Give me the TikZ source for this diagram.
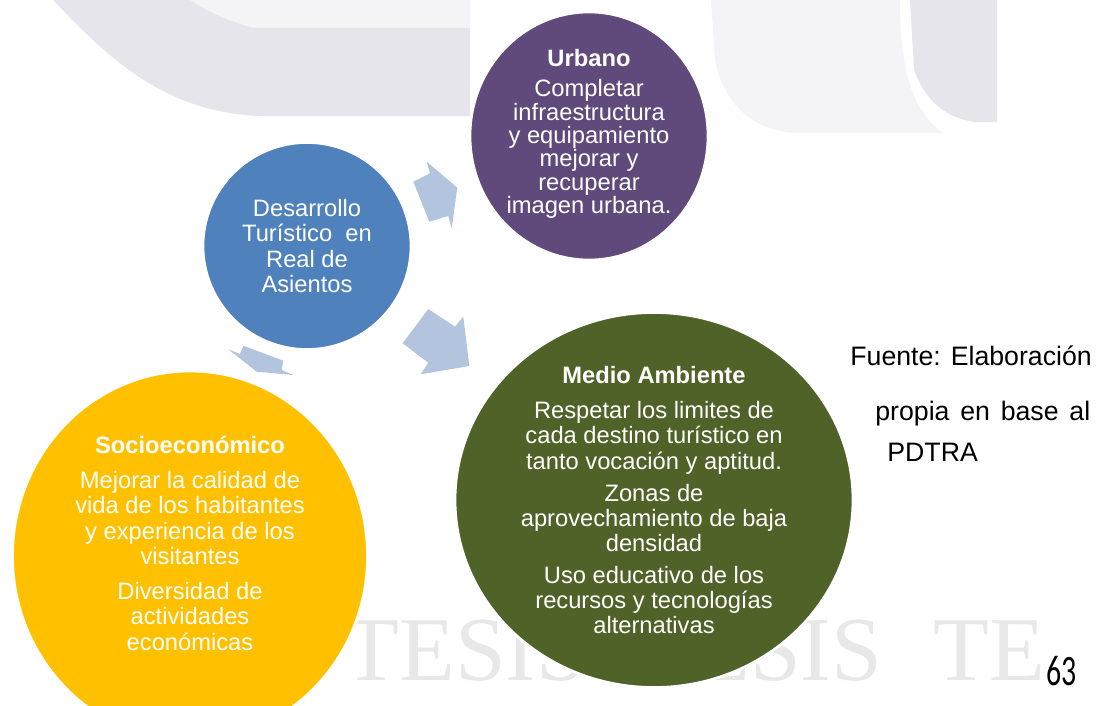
\documentclass[tikz,border=0pt]{standalone}
\usepackage{fontspec}
\setmainfont{Liberation Sans}
\newfontfamily\wmfont{Liberation Serif}
\newfontfamily\pagefont{Carlito}
\usetikzlibrary{shapes.geometric}

\definecolor{bluecirc}{HTML}{4F81BD}
\definecolor{purplecirc}{HTML}{604A7B}
\definecolor{greencirc}{HTML}{4F6228}
\definecolor{yellowcirc}{HTML}{FFC000}
\definecolor{arrowfill}{RGB}{179,196,222}
\definecolor{wmdark}{RGB}{229,229,235}
\definecolor{wmlight}{RGB}{244,244,247}
\definecolor{wmtext}{RGB}{232,232,232}

\tikzset{
  bubble/.style={ellipse, draw=white, line width=1.5pt, inner sep=0pt},
  bubbletext/.style={align=center, text=white, inner sep=0pt, font=\fontsize{13.5}{14.3}\selectfont},
  blockarrow/.style={fill=arrowfill},
  note/.style={anchor=base west, inner sep=0pt, font=\fontsize{15.2}{18}\selectfont},
  wm/.style={anchor=base west, inner sep=0pt, text=wmtext, font=\wmfont\fontsize{52}{52}\selectfont},
}

\begin{document}
\begin{tikzpicture}[x=0.02cm, y=-0.02cm]
\useasboundingbox (0,0) rectangle (1098,706);
\clip (0,0) rectangle (1098,706);
\fill[white] (0,0) rectangle (1098,706);

% Watermark
\fill[wmlight] (190,0) -- (470,0) -- (470,28) -- (253,28) .. controls (225,20) and (205,10) .. (190,0) -- cycle;
\fill[wmdark] (53,0) .. controls (110,60) and (165,112) .. (260,116) -- (470,116) -- (470,28) -- (253,28) .. controls (225,20) and (205,10) .. (190,0) -- cycle;
\fill[wmlight] (711,0) -- (715,60) .. controls (725,110) and (760,133) .. (800,133) -- (942,133) .. controls (915,110) and (900,80) .. (900,0) -- cycle;
\fill[wmdark] (910,0) -- (914,70) .. controls (925,100) and (945,118) .. (975,122) -- (997,122) -- (997,0) -- cycle;
\node[wm] (wm1) at (343,680) {TESIS};
\node[wm] (wm2) at (638,680) {TESIS};
\node[wm] (wm3) at (933,680) {TE};

% Circles
\node[bubble, fill=bluecirc, minimum width=4.16cm, minimum height=4.14cm] (desarrollo) at (307,246) {};
\node[bubble, fill=purplecirc, minimum width=4.76cm, minimum height=4.96cm] (urbano) at (589,136) {};
\node[bubble, fill=greencirc, minimum width=7.96cm, minimum height=7.5cm] (medio) at (654,500) {};
\node[bubble, fill=yellowcirc, minimum width=7.1cm, minimum height=7.4cm] (socio) at (190,556) {};

% Texts
\node[bubbletext] (desarrollotxt) at (desarrollo.center) {Desarrollo\\Turístico~~en\\Real de\\Asientos};
\node[bubbletext, font=\fontsize{13.5}{13.3}\selectfont] (urbanotxt) at (589,134) {\textbf{Urbano}\\[3.7pt]Completar\\infraestructura\\y equipamiento\\mejorar y\\recuperar\\imagen urbana.};
\node[bubbletext] (mediotxt) at (medio.center) {\textbf{Medio Ambiente}\\[6pt]Respetar los limites de\\cada destino turístico en\\tanto vocación y aptitud.\\[4pt]Zonas de\\aprovechamiento de baja\\densidad\\[4pt]Uso educativo de los\\recursos y tecnologías\\alternativas};
\node[bubbletext] (sociotxt) at (190,543) {\textbf{Socioeconómico}\\[6pt]Mejorar la calidad de\\vida de los habitantes\\y experiencia de los\\visitantes\\[6pt]Diversidad de\\actividades\\económicas};

% Block arrows
\fill[blockarrow] (413.3,181.7) -- (430,173.3) -- (426.7,161.7) -- (457.3,187.7) -- (451.7,228.3) -- (448.3,216) -- (429.3,221.7) -- cycle;
\fill[blockarrow] (402.7,343.3) -- (428.3,309) -- (455,326.7) -- (463.3,316.7) -- (469.3,366) -- (420.7,374.3) -- (428.3,362.7) -- cycle;
\fill[blockarrow] (228.3,349.3) -- (240,354) -- (243.3,345.7) -- (283.3,360.7) -- (281.7,370) -- (293.3,375) -- (256.7,371.7) -- cycle;

% Source note
\node[note] (fuente) at (850,365) {Fuente: Elaboración};
\node[note] (propia) at (875,420) {\makebox[4.3cm][s]{propia en base al}};
\node[note] (pdtra) at (887,461) {PDTRA};

% Page number
\node[anchor=base east, inner sep=0pt, font=\pagefont\fontsize{17}{17}\selectfont] (pagenum) at (1077,685) {\scalebox{1}[1.45]{63}};
\end{tikzpicture}
\end{document}
